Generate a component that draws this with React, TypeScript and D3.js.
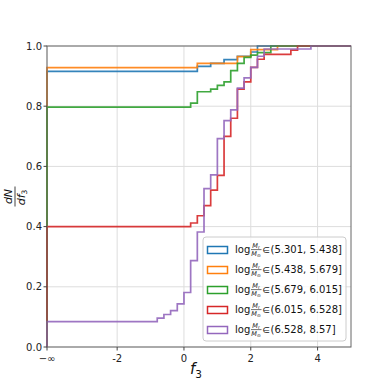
import React from "react";
import * as d3 from "d3";

// f3 value where the "-inf" bucket is drawn
const NEG_INF = -4.1;
const X_MAX = 5;

const xTicks = [NEG_INF, -2, 0, 2, 4];
const xTickLabels = ["\u2212\u221e", "-2", "0", "2", "4"];
const yTicks = [0, 0.2, 0.4, 0.6, 0.8, 1.0];

const intervals = [
  "(5.301, 5.438]",
  "(5.438, 5.679]",
  "(5.679, 6.015]",
  "(6.015, 6.528]",
  "(6.528, 8.57]",
];
const colors = ["#1f77b4", "#ff7f0e", "#2ca02c", "#d62728", "#9467bd"];

// cumulative fraction, first value is the -inf bucket
const blueEdges = [0.4, 0.8, 1.2, 1.6, 2.0, 2.2];
const blueCdf = [0.916, 0.932, 0.942, 0.955, 0.966, 0.98, 1.0];

const orangeEdges = [0.4, 1.6, 2.0, 2.8];
const orangeCdf = [0.928, 0.942, 0.965, 0.988, 1.0];

const greenEdges = [0.2, 0.4, 0.8, 1.0, 1.2, 1.4, 1.6, 1.8, 2.0, 2.2, 2.6];
const greenCdf = [0.797, 0.81, 0.848, 0.857, 0.869, 0.881, 0.918, 0.942, 0.962, 0.97, 0.978, 1.0];

const redEdges = [0.2, 0.4, 0.6, 0.8, 1.0, 1.2, 1.4, 1.6, 1.8, 2.0, 2.2, 2.4, 3.2, 3.4];
const redCdf = [0.4, 0.412, 0.436, 0.47, 0.521, 0.57, 0.7, 0.76, 0.857, 0.881, 0.929, 0.956, 0.972, 0.986, 1.0];

const purpleEdges = [-0.8, -0.6, -0.4, -0.2, 0, 0.2, 0.4, 0.6, 0.8, 1.0, 1.2, 1.4, 1.6, 1.8, 2.0, 2.2, 2.4, 3.8];
const purpleCdf = [0.084, 0.096, 0.108, 0.121, 0.143, 0.181, 0.287, 0.382, 0.526, 0.572, 0.692, 0.752, 0.788, 0.86, 0.894, 0.929, 0.966, 0.99, 1.0];

const seriesEdges = [blueEdges, orangeEdges, greenEdges, redEdges, purpleEdges];
const seriesCdf = [blueCdf, orangeCdf, greenCdf, redCdf, purpleCdf];

const W = 390;
const H = 390;
const margin = { top: 46, right: 39, bottom: 43, left: 47 };
const FONT = "DejaVu Sans, sans-serif";

export default function App() {
  const innerW = W - margin.left - margin.right;
  const innerH = H - margin.top - margin.bottom;

  const x = d3.scaleLinear().domain([NEG_INF, X_MAX]).range([margin.left, margin.left + innerW]);
  const y = d3.scaleLinear().domain([0, 1]).range([margin.top + innerH, margin.top]);

  const line = d3
    .line<[number, number]>()
    .x((d) => x(d[0]))
    .y((d) => y(d[1]))
    .curve(d3.curveStepAfter);

  const paths = seriesCdf.map((cdf, i) => {
    const pts: [number, number][] = [[NEG_INF, 0], [NEG_INF, cdf[0]]];
    seriesEdges[i].forEach((e, j) => pts.push([e, cdf[j + 1]]));
    pts.push([X_MAX, cdf[cdf.length - 1]]);
    return line(pts) || "";
  });

  const x0 = x(NEG_INF);
  const x1 = x(X_MAX);
  const yb = y(0);
  const yt = y(1);

  // legend
  const lgX = 203;
  const lgY = 237;
  const lgW = 143;
  const lgH = 104;
  const rowY = (i: number) => 250 + i * 20;

  return (
    <svg width={W} height={H} style={{ position: "absolute", left: 0, top: 0, background: "#fff" }} fontFamily={FONT}>
      <rect x={0} y={0} width={W} height={H} fill="#fff" />
      {/* grid */}
      {xTicks.map((t, i) => (
        <line key={"gx" + i} x1={x(t)} x2={x(t)} y1={yt} y2={yb} stroke="#dddddd" strokeWidth={1} />
      ))}
      {yTicks.map((t, i) => (
        <line key={"gy" + i} x1={x0} x2={x1} y1={y(t)} y2={y(t)} stroke="#dddddd" strokeWidth={1} />
      ))}

      {/* steps */}
      {paths.map((p, i) => (
        <path key={"s" + i} d={p} fill="none" stroke={colors[i]} strokeWidth={1.7} opacity={0.9} />
      ))}

      {/* spines */}
      <rect x={x0} y={yt} width={x1 - x0} height={yb - yt} fill="none" stroke="#666" strokeWidth={1} />

      {/* x ticks */}
      {xTicks.map((t, i) => (
        <g key={"xt" + i}>
          <line x1={x(t)} x2={x(t)} y1={yb} y2={yb + 3.5} stroke="#444" />
          <text x={x(t)} y={yb + 15} fontSize={10} textAnchor="middle" fill="#222">
            {xTickLabels[i]}
          </text>
        </g>
      ))}
      {/* y ticks */}
      {yTicks.map((t, i) => (
        <g key={"yt" + i}>
          <line x1={x0 - 3.5} x2={x0} y1={y(t)} y2={y(t)} stroke="#444" />
          <text x={x0 - 5} y={y(t) + 3.6} fontSize={10} textAnchor="end" fill="#222">
            {t.toFixed(1)}
          </text>
        </g>
      ))}

      {/* x label */}
      <text x={(x0 + x1) / 2 - 3} y={374} fontSize={15} fontStyle="italic" fill="#111" textAnchor="middle">
        f
        <tspan fontStyle="normal" fontSize={10.5} dy={4}>3</tspan>
      </text>

      {/* y label: dN / df3 */}
      <g transform={`translate(15, ${(yt + yb) / 2}) rotate(-90)`} fill="#111">
        <text x={0} y={-3} fontSize={11} fontStyle="italic" textAnchor="middle">dN</text>
        <line x1={-10} x2={10} y1={0} y2={0} stroke="#111" strokeWidth={0.8} />
        <text x={-1} y={9.5} fontSize={11} fontStyle="italic" textAnchor="middle">
          df
          <tspan fontStyle="normal" fontSize={7.5} dy={2}>3</tspan>
        </text>
      </g>

      {/* legend */}
      <rect x={lgX} y={lgY} width={lgW} height={lgH} rx={3} fill="#fff" fillOpacity={0.8} stroke="#cccccc" strokeWidth={1} />
      {intervals.map((lab, i) => {
        const cy = rowY(i);
        const b = cy + 3;
        return (
          <g key={"lg" + i}>
            <rect x={207.5} y={cy - 3.5} width={20} height={7} fill="none" stroke={colors[i]} strokeWidth={1.5} />
            <text x={235} y={b} fontSize={10} fill="#111">log</text>
            <text x={256} y={b - 4.8} fontSize={6.5} fontStyle="italic" textAnchor="middle" fill="#111">
              M<tspan fontSize={4.5} fontStyle="normal" dy={1}>r</tspan>
            </text>
            <line x1={251} x2={261.5} y1={b - 3.4} y2={b - 3.4} stroke="#111" strokeWidth={0.6} />
            <text x={256} y={b + 2.8} fontSize={6.5} fontStyle="italic" textAnchor="middle" fill="#111">
              M<tspan fontSize={4.5} fontStyle="normal" dy={1}>{"\u2299"}</tspan>
            </text>
            <text x={262.3} y={b} fontSize={8.5} fill="#111">{"\u2208"}</text>
            <text x={270.5} y={b} fontSize={10} fill="#111">{lab}</text>
          </g>
        );
      })}
    </svg>
  );
}
